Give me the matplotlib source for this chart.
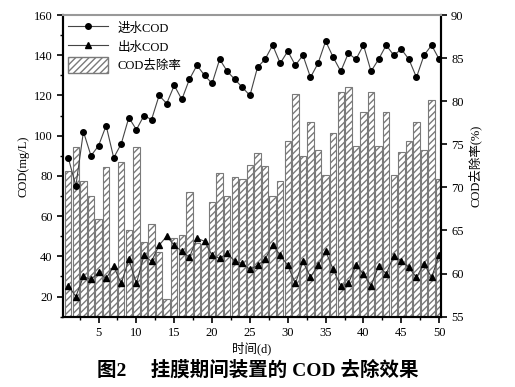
import matplotlib
matplotlib.use('Agg')
import matplotlib.pyplot as plt
from matplotlib.patches import Patch
from matplotlib.lines import Line2D
from matplotlib.ticker import MultipleLocator

plt.rcParams['font.family'] = ['Liberation Serif', 'Noto Sans CJK SC']
plt.rcParams['hatch.color'] = '#7a7a7a'
plt.rcParams['hatch.linewidth'] = 1.0

# 数据
days = list(range(1, 51))
influent = [89, 75, 102, 90, 95, 105, 89, 96, 109, 103,
            110, 108, 120, 116, 125, 118, 128, 135, 130, 126,
            138, 132, 128, 124, 120, 134, 138, 145, 136, 142,
            135, 140, 129, 136, 147, 139, 132, 141, 138, 145,
            132, 138, 145, 140, 143, 138, 129, 140, 145, 138]
effluent = [25.5, 20, 30, 28.5, 32, 29, 35, 26.5, 38.5, 26.5,
            40.5, 37.5, 45.5, 50, 45.5, 42.5, 39.5, 49, 47.5, 40.5,
            39, 41.5, 37.5, 36.5, 33.5, 35.5, 38.5, 45.8, 40.5, 35.5,
            26.5, 37.5, 29.7, 35.5, 42.5, 33.5, 25.3, 26.5, 35.5, 31.3,
            25.3, 35.3, 31.3, 40.2, 37.8, 34.5, 29.5, 36.4, 29.5, 40.6]
removal = [71.9, 74.7, 70.7, 69.0, 66.3, 72.4, 60.6, 73.0, 65.1, 74.7,
           63.7, 65.8, 62.5, 57.0, 64.1, 64.5, 69.5, 63.6, 63.4, 68.3,
           71.7, 69.0, 71.2, 71.0, 72.6, 74.0, 72.5, 69.0, 70.7, 75.4,
           80.8, 73.6, 77.6, 74.3, 71.4, 76.3, 81.1, 81.6, 74.8, 78.7,
           81.1, 74.8, 78.7, 71.4, 74.1, 75.4, 77.6, 74.3, 80.1, 71.0]

fig = plt.figure(figsize=(5.15, 3.87), dpi=100)
ax1 = fig.add_axes([0.1223, 0.1817, 0.7334, 0.7795])
ax2 = ax1.twinx()

# 去除率柱状图（右轴）
ax2.bar(days, removal, width=0.85, bottom=0, color='white',
        edgecolor='#7a7a7a', linewidth=0.8, hatch='/////')
ax2.set_ylim(55, 90)
ax2.yaxis.set_major_locator(MultipleLocator(5))
ax2.set_ylabel('COD去除率(%)', fontsize=9, labelpad=3)

# 进出水COD（左轴）
ax1.set_zorder(ax2.get_zorder() + 1)
ax1.patch.set_visible(False)
ax1.plot(days, influent, color='#444444', lw=0.8, marker='o', ms=4,
         mfc='black', mec='black')
ax1.plot(days, effluent, color='#444444', lw=0.8, marker='^', ms=4.5,
         mfc='black', mec='black')
ax1.set_ylim(10, 160)
ax1.set_xlim(0.3, 50.2)
ax1.yaxis.set_major_locator(MultipleLocator(20))
ax1.yaxis.set_minor_locator(MultipleLocator(10))
ax1.xaxis.set_major_locator(MultipleLocator(5))
ax1.xaxis.set_minor_locator(MultipleLocator(2.5))
ax1.set_xlabel('时间(d)', fontsize=9, labelpad=2)
ax1.set_ylabel('COD(mg/L)', fontsize=9, labelpad=3)

for ax in (ax1, ax2):
    ax.tick_params(direction='out', labelsize=9, length=4, width=1.2)
    ax.tick_params(which='minor', direction='out', length=2.5, width=1)
    for s in ax.spines.values():
        s.set_linewidth(1.5)
    ax.spines['top'].set_color('#999999')
ax2.spines['top'].set_visible(False)

handles = [Line2D([], [], color='#444444', lw=0.8, marker='o', ms=4, mfc='black', mec='black'),
           Line2D([], [], color='#444444', lw=0.8, marker='^', ms=4.5, mfc='black', mec='black'),
           Patch(facecolor='white', edgecolor='#7a7a7a', hatch='/////')]
ax1.legend(handles, ['进水COD', '出水COD', 'COD去除率'], loc='upper left',
           frameon=False, fontsize=9, handlelength=3.2, handleheight=1.6,
           borderaxespad=0.2, labelspacing=0.2, borderpad=0.2)

fig.text(0.50, 0.045, '图2　 挂膜期间装置的 COD 去除效果', ha='center',
         va='center', fontsize=14, fontweight='bold')

fig.savefig('out.png', dpi=100)
